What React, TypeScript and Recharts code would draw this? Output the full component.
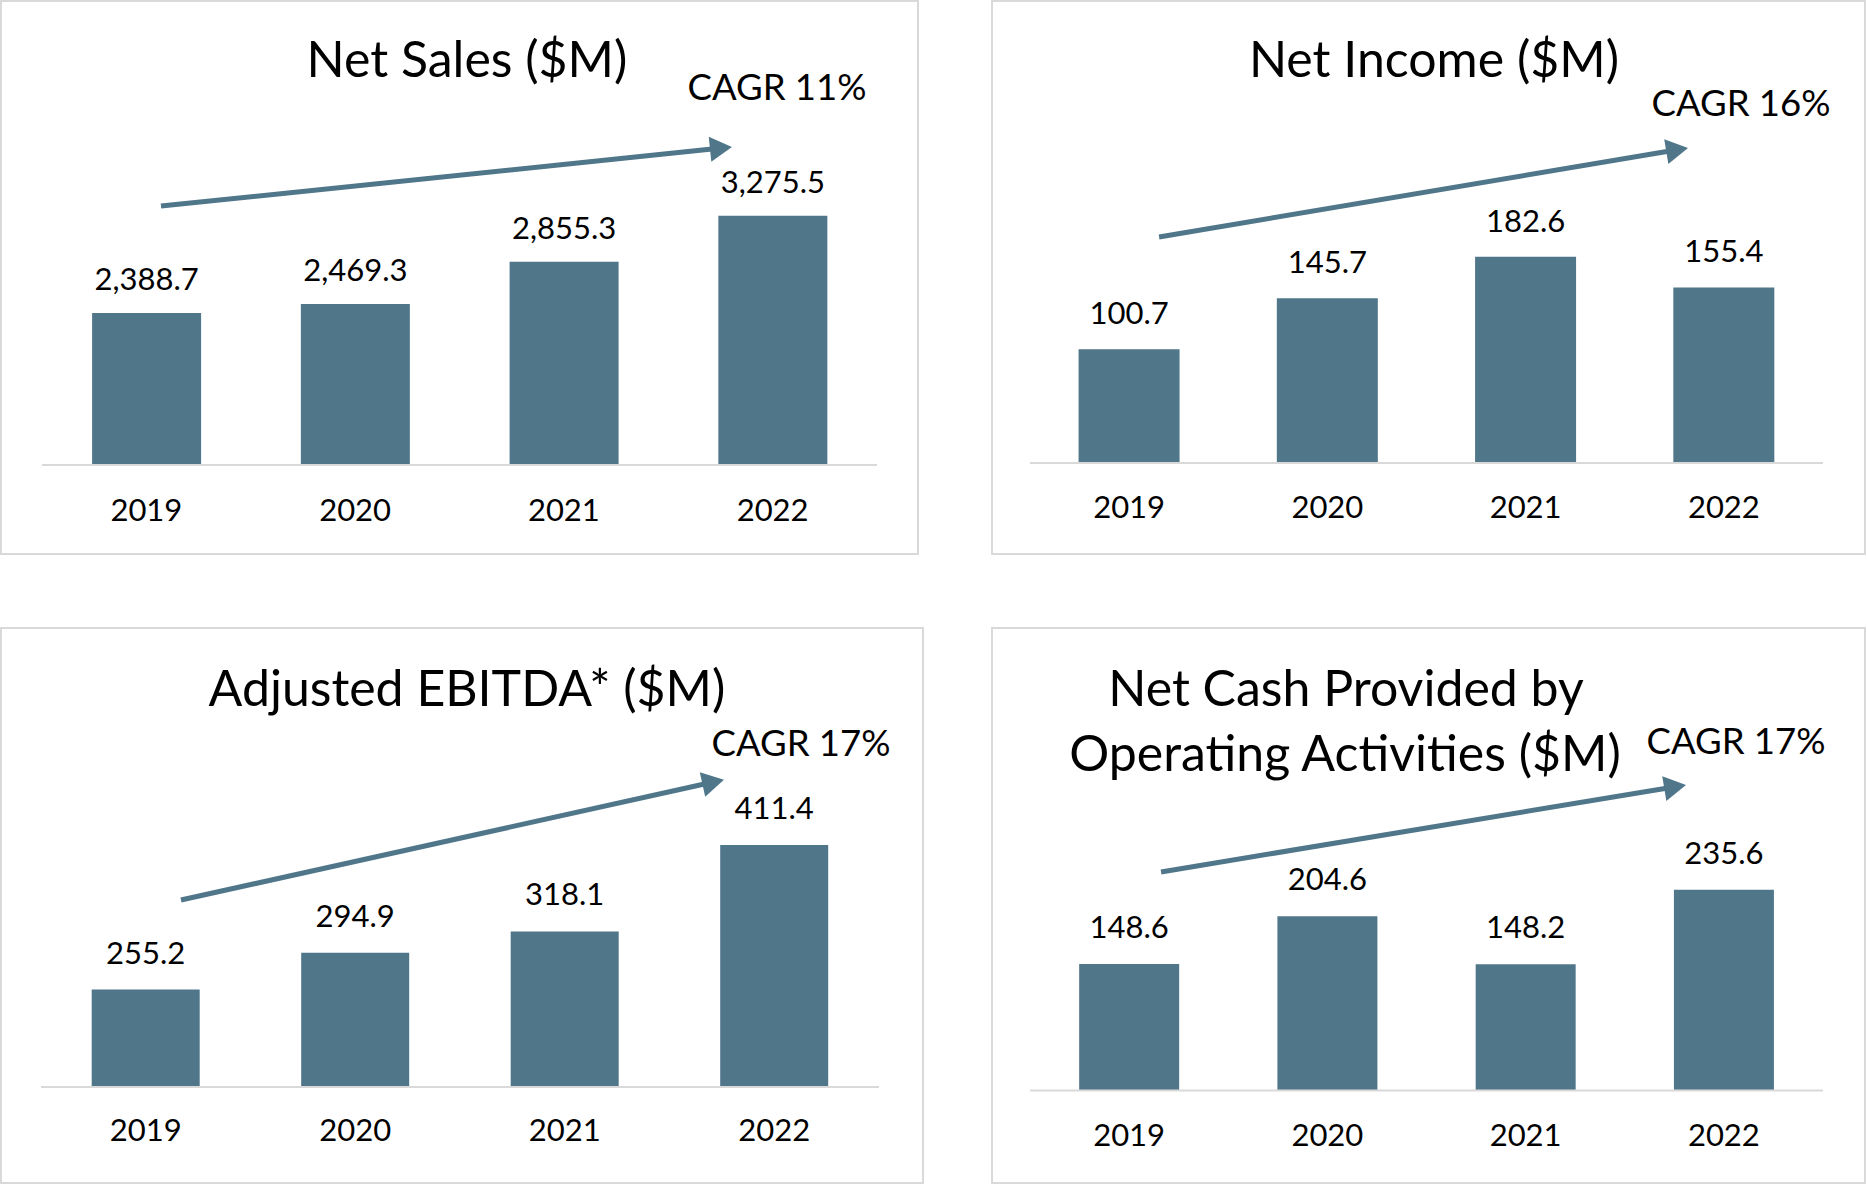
import React from 'react';
import { BarChart, Bar, XAxis, YAxis, LabelList, ReferenceLine } from 'recharts';

// ---------- data ----------
const years = ['2019', '2020', '2021', '2022'];
const netSales = [2388.7, 2469.3, 2855.3, 3275.5];
const netIncome = [100.7, 145.7, 182.6, 155.4];
const adjEbitda = [255.2, 294.9, 318.1, 411.4];
const netCash = [148.6, 204.6, 148.2, 235.6];

const salesTitle = ['Net Sales ($M)'];
const incomeTitle = ['Net Income ($M)'];
const ebitdaTitle = ['Adjusted EBITDA* ($M)'];
const cashTitle = ['Net Cash Provided by', 'Operating Activities ($M)'];

const salesCagr = 'CAGR 11%';
const incomeCagr = 'CAGR 16%';
const ebitdaCagr = 'CAGR 17%';
const cashCagr = 'CAGR 17%';

// y-axis domains
const salesDomain = [1000, 4000];
const incomeDomain = [0, 300];
const ebitdaDomain = [150, 500];
const cashDomain = [0, 400];

// trend arrows: [start, end] in data units (x on a 0-4 category band scale, y in $M)
const salesArrow = [
  [0.57, 3365],
  [3.305, 3904],
];
const incomeArrow = [
  [0.651, 200],
  [3.319, 278.8],
];
const ebitdaArrow = [
  [0.668, 352],
  [3.26, 482],
];
const cashArrow = [
  [0.661, 256.5],
  [3.309, 358.6],
];

// ---------- styling ----------
const BAR = '#50768A';
const GRID = '#d9d9d9';
const FONT = 'Lato, "Open Sans", sans-serif';

const fmt = (v: number) =>
  v.toLocaleString('en-US', { minimumFractionDigits: 1, maximumFractionDigits: 1 });

const ArrowShape = (props: any) => {
  const { x1, y1, x2, y2 } = props;
  if ([x1, y1, x2, y2].some((v) => typeof v !== 'number' || isNaN(v))) return null;
  const ang = Math.atan2(y2 - y1, x2 - x1);
  const headLen = 22;
  const halfW = 12.5;
  const bx = x2 - headLen * Math.cos(ang);
  const by = y2 - headLen * Math.sin(ang);
  const px = -Math.sin(ang) * halfW;
  const py = Math.cos(ang) * halfW;
  return (
    <g>
      <line x1={x1} y1={y1} x2={bx + 2 * Math.cos(ang)} y2={by + 2 * Math.sin(ang)} stroke={BAR} strokeWidth={5} />
      <polygon points={`${x2},${y2} ${bx + px},${by + py} ${bx - px},${by - py}`} fill={BAR} />
    </g>
  );
};

type PanelProps = {
  values: number[];
  domain: number[];
  arrow: number[][];
  left: number;
  top: number;
  width: number;
  height: number;
  margin: { top: number; right: number; bottom: number; left: number };
  gap: string;
  tickMargin: number;
  labelOffset: number;
};

const Panel = (p: PanelProps) => {
  // pos = centre of each category band on a 0-4 scale (used only to place the trend arrow)
  const data = years.map((y, i) => ({ year: y, value: p.values[i], pos: i + 0.5 }));
  return (
    <div style={{ position: 'absolute', left: p.left, top: p.top, width: p.width, height: p.height }}>
      <div
        style={{
          position: 'absolute',
          left: 0,
          top: 0,
          width: p.width,
          height: p.height,
          border: `2px solid ${GRID}`,
          boxSizing: 'border-box',
        }}
      />
      <div style={{ position: 'absolute', left: 0, top: 0 }}>
        <BarChart width={p.width} height={p.height} data={data} margin={p.margin} barCategoryGap={p.gap}>
          <XAxis
            dataKey="year"
            height={60}
            axisLine={{ stroke: GRID, strokeWidth: 2 }}
            tickLine={false}
            tickSize={0}
            tickMargin={p.tickMargin}
            tick={{ fontSize: 31, fill: '#000', fontFamily: FONT }}
          />
          <XAxis
            xAxisId="arrow"
            dataKey="pos"
            type="number"
            scale="linear"
            domain={[0, 4]}
            hide
            allowDataOverflow
          />
          <YAxis hide domain={p.domain} allowDataOverflow />
          <Bar dataKey="value" fill={BAR} isAnimationActive={false}>
            <LabelList
              dataKey="value"
              position="top"
              offset={p.labelOffset}
              formatter={(v: any) => fmt(Number(v))}
              style={{ fontSize: 31, fill: '#000', fontFamily: FONT }}
            />
          </Bar>
          <ReferenceLine
            xAxisId="arrow"
            ifOverflow="visible"
            segment={[
              { x: p.arrow[0][0], y: p.arrow[0][1] },
              { x: p.arrow[1][0], y: p.arrow[1][1] },
            ]}
            shape={ArrowShape}
          />
        </BarChart>
      </div>
    </div>
  );
};

const T = (props: { x: number; y: number; size: number; children: React.ReactNode }) => (
  <text x={props.x} y={props.y} textAnchor="middle" fontSize={props.size} fontFamily={FONT} fill="#000">
    {props.children}
  </text>
);

export default function App() {
  return (
    <div
      style={{
        position: 'absolute',
        left: 0,
        top: 0,
        width: 1867,
        height: 1185,
        background: '#fff',
        overflow: 'hidden',
      }}
    >
      <Panel
        values={netSales}
        domain={salesDomain}
        arrow={salesArrow}
        left={0}
        top={0}
        width={919}
        height={555}
        margin={{ top: 136.5, right: 42, bottom: 30, left: 42 }}
        gap="24%"
        tickMargin={34}
        labelOffset={23}
      />
      <Panel
        values={netIncome}
        domain={incomeDomain}
        arrow={incomeArrow}
        left={991}
        top={0}
        width={875}
        height={555}
        margin={{ top: 124, right: 43, bottom: 32, left: 39 }}
        gap="24.5%"
        tickMargin={33}
        labelOffset={25}
      />
      <Panel
        values={adjEbitda}
        domain={ebitdaDomain}
        arrow={ebitdaArrow}
        left={0}
        top={627}
        width={924}
        height={557}
        margin={{ top: 136, right: 45, bottom: 37, left: 41 }}
        gap="24.2%"
        tickMargin={32}
        labelOffset={26}
      />
      <Panel
        values={netCash}
        domain={cashDomain}
        arrow={cashArrow}
        left={991}
        top={627}
        width={875}
        height={557}
        margin={{ top: 122.7, right: 43, bottom: 33.5, left: 39 }}
        gap="24.8%"
        tickMargin={33}
        labelOffset={26}
      />
      <svg
        width={1867}
        height={1185}
        style={{ position: 'absolute', left: 0, top: 0, pointerEvents: 'none' }}
      >
        <T x={467} y={77} size={50}>{salesTitle[0]}</T>
        <T x={777} y={100} size={36.5}>{salesCagr}</T>
        <T x={1434} y={77} size={50}>{incomeTitle[0]}</T>
        <T x={1741} y={116} size={36.5}>{incomeCagr}</T>
        <T x={467} y={706} size={50}>{ebitdaTitle[0]}</T>
        <T x={801} y={756} size={36.5}>{ebitdaCagr}</T>
        <T x={1346} y={706} size={50}>{cashTitle[0]}</T>
        <T x={1345} y={771} size={50}>{cashTitle[1]}</T>
        <T x={1736} y={754} size={36.5}>{cashCagr}</T>
      </svg>
    </div>
  );
}
